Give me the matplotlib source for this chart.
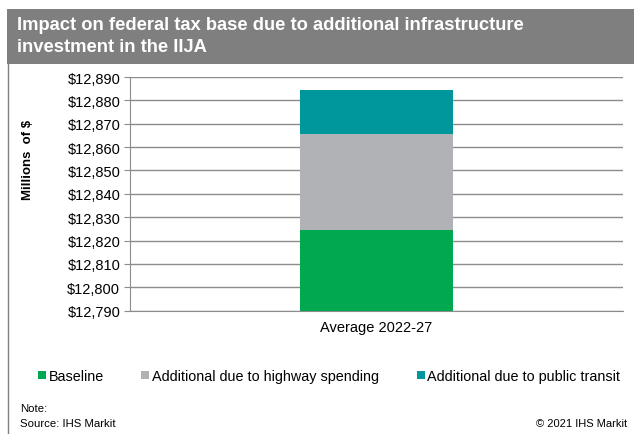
import matplotlib
matplotlib.use("Agg")
import matplotlib.pyplot as plt
from matplotlib.patches import Rectangle
from matplotlib.ticker import FuncFormatter

plt.rcParams['font.family'] = ['Liberation Sans', 'DejaVu Sans']

# stacked components, millions of $
category = ["Average 2022-27"]
series_names = ["Baseline", "Additional due to highway spending", "Additional due to public transit"]
baseline = [12824.4]
highway = [41.2]
transit = [18.7]
colors = ["#00A94F", "#B1B2B6", "#00979C"]

fig = plt.figure(figsize=(6.34, 4.35), dpi=100)

# title band
fig.patches.append(Rectangle((7 / 634, 1 - 65 / 435), 1, 55 / 435, transform=fig.transFigure,
                             facecolor="#7F7F7F", edgecolor="none", zorder=0))
fig.text(17 / 634, 1 - 25 / 435, "Impact on federal tax base due to additional infrastructure",
         color="white", fontsize=13.2, fontweight="bold", va="center", ha="left")
fig.text(17 / 634, 1 - 47 / 435, "investment in the IIJA",
         color="white", fontsize=13.2, fontweight="bold", va="center", ha="left")
# left frame line
fig.lines.append(plt.Line2D([8 / 634, 8 / 634], [0, 1 - 65 / 435], transform=fig.transFigure,
                            color="#808080", lw=1))

ax = fig.add_axes([130 / 634, 1 - 311.7 / 435, 493 / 634, 233.7 / 435])
x = list(range(len(category)))
bottoms = [0] * len(category)
bars = []
for vals, c, name in zip([baseline, highway, transit], colors, series_names):
    if bottoms[0] == 0:
        b = ax.bar(x, vals, width=0.31, color=c, label=name, zorder=3)
        bottoms = list(vals)
    else:
        b = ax.bar(x, vals, width=0.31, bottom=bottoms, color=c, label=name, zorder=3)
        bottoms = [bo + v for bo, v in zip(bottoms, vals)]
    bars.append(b)

ax.set_xlim(-0.5, 0.5)
ax.set_ylim(12790, 12890)
ax.set_yticks(range(12790, 12891, 10))
ax.yaxis.set_major_formatter(FuncFormatter(lambda v, p: f"${v:,.0f}"))
ax.grid(axis="y", color="#8C8C8C", lw=1, zorder=0)
ax.set_xticks(x)
ax.set_xticklabels(category)
ax.tick_params(axis="x", length=0, pad=7, labelsize=10.5)
ax.tick_params(axis="y", length=4, color="#8C8C8C", labelsize=10.5, pad=3)
for s in ["top", "right"]:
    ax.spines[s].set_visible(False)
for s in ["left", "bottom"]:
    ax.spines[s].set_color("#8C8C8C")

fig.text(28 / 634, 1 - 160 / 435, "Millions  of $", rotation=90, fontsize=9.5,
         fontweight="bold", ha="center", va="center")

fig.legend(handles=bars, labels=series_names, loc="center", ncol=3,
           bbox_to_anchor=(329 / 634, 1 - 377 / 435), frameon=False, fontsize=10.4,
           handlelength=0.55, handleheight=0.55, handletextpad=0.2, columnspacing=2.6)

fig.text(20 / 634, 1 - 409 / 435, "Note:", fontsize=8.2, va="center")
fig.text(20 / 634, 1 - 424 / 435, "Source: IHS Markit", fontsize=8.2, va="center")
fig.text(627 / 634, 1 - 424 / 435, "© 2021 IHS Markit", fontsize=8.0, va="center", ha="right")

fig.savefig("out.png", dpi=100)
